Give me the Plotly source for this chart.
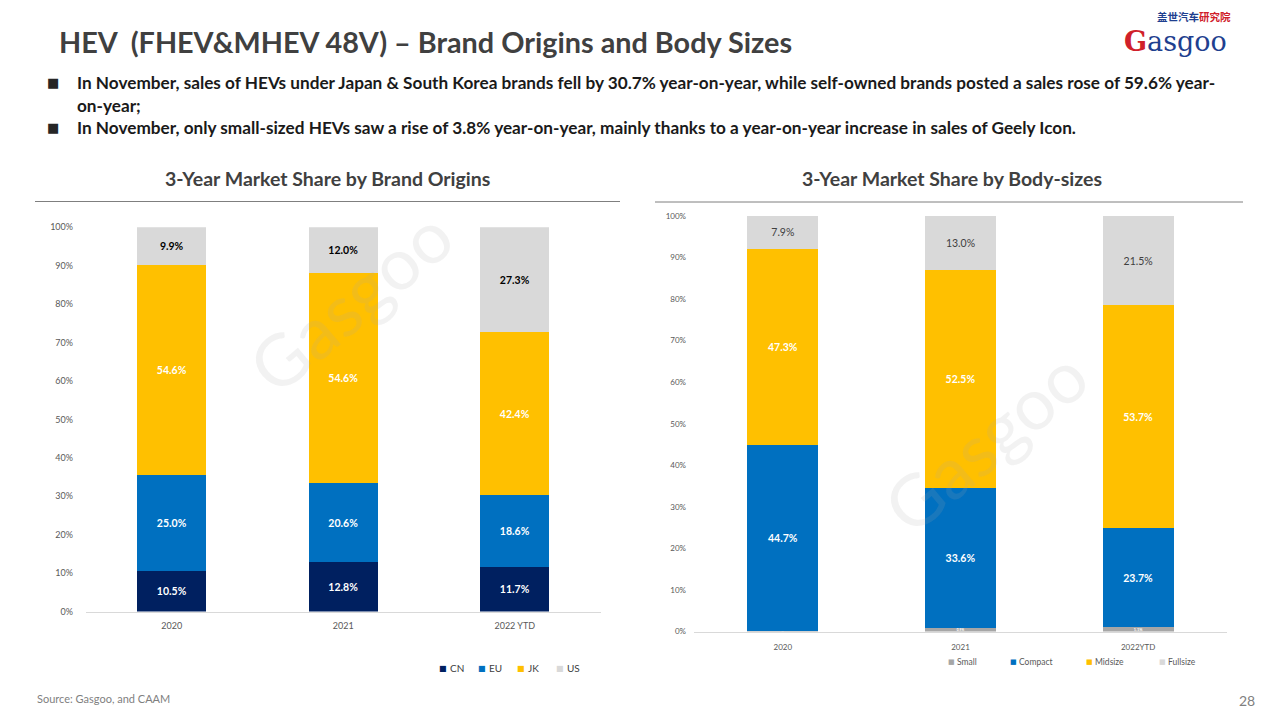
import plotly.graph_objects as go

# ---------------- data ----------------
years_left = ["2020", "2021", "2022 YTD"]
cn = [10.5, 12.8, 11.7]
eu = [25.0, 20.6, 18.6]
jk = [54.6, 54.6, 42.4]
us = [9.9, 12.0, 27.3]

years_right = ["2020", "2021", "2022YTD"]
small = [0.1, 0.9, 1.1]
compact = [44.7, 33.6, 23.7]
midsize = [47.3, 52.5, 53.7]
fullsize = [7.9, 13.0, 21.5]

y_ticks = [0, 10, 20, 30, 40, 50, 60, 70, 80, 90, 100]
y_tick_text = [f"{v}%" for v in y_ticks]

W, H = 1280, 720
def px(x): return x / W
def py(y): return 1 - y / H

FONT = "Lato"
fig = go.Figure()

left_series = [("CN", cn, "#002060", "white", True),
               ("EU", eu, "#0070C0", "white", True),
               ("JK", jk, "#FFC000", "white", True),
               ("US", us, "#D9D9D9", "black", True)]
right_series = [("Small", small, "#A6A6A6", "white", True),
                ("Compact", compact, "#0070C0", "white", True),
                ("Midsize", midsize, "#FFC000", "white", True),
                ("Fullsize", fullsize, "#D9D9D9", "#404040", False)]

def add_bar(x, y, name, color, tcolor, xa, ya, bold=True):
    fig.add_trace(go.Bar(
        x=x, y=y, name=name, marker=dict(color=color, line=dict(width=0)),
        texttemplate="<b>%{y:.1f}%</b>" if bold else "%{y:.1f}%",
        textposition="inside", insidetextanchor="middle",
        textfont=dict(color=tcolor, size=10.5, family=FONT),
        xaxis=xa, yaxis=ya, showlegend=False, hoverinfo="skip"))

for name, vals, col, tcol, b in left_series:
    add_bar(years_left, vals, name, col, tcol, "x", "y", b)
for name, vals, col, tcol, b in right_series:
    add_bar(years_right, vals, name, col, tcol, "x2", "y2", b)

tickfont = dict(size=9, color="#595959", family=FONT)
tickfont2 = dict(size=8, color="#595959", family=FONT)
axis_common = dict(showgrid=False, zeroline=False, fixedrange=True, automargin=False)

fig.update_layout(
    width=W, height=H, autosize=False,
    margin=dict(l=0, r=0, t=0, b=0, pad=0),
    paper_bgcolor="white", plot_bgcolor="white",
    barmode="stack", showlegend=False,
    font=dict(family=FONT),
    xaxis=dict(domain=[px(86), px(600.5)], anchor="y", showline=True, linecolor="#D9D9D9",
               linewidth=1, ticks="", tickfont=tickfont, range=[-0.5, 2.5],
               ticklabelstandoff=6, **axis_common),
    yaxis=dict(domain=[py(611.5), py(227.3)], anchor="x", range=[0, 100], tickvals=y_ticks,
               ticktext=y_tick_text, tickfont=tickfont, showline=False, ticks="",
               ticklabelstandoff=12, **axis_common),
    xaxis2=dict(domain=[px(694), px(1227)], anchor="y2", showline=True, linecolor="#D9D9D9",
                linewidth=1, ticks="", tickfont=tickfont2, range=[-0.5, 2.5],
                ticklabelstandoff=8, **axis_common),
    yaxis2=dict(domain=[py(631.5), py(216)], anchor="x2", range=[0, 100], tickvals=y_ticks,
                ticktext=y_tick_text, tickfont=tickfont2,
                showline=False, ticks="", ticklabelstandoff=7, **axis_common),
    bargap=0.6,
)

# ---------------- text annotations ----------------
ann = []
def A(**kw):
    kw.setdefault("xref", "paper")
    kw.setdefault("yref", "paper")
    kw.setdefault("showarrow", False)
    ann.append(kw)

A(text="<b>HEV  (FHEV&MHEV 48V) – Brand Origins and Body Sizes</b>",
  x=px(57), y=py(41.5), xanchor="left", yanchor="middle",
  font=dict(size=28.8, color="#404040", family=FONT))
bullet_font = dict(size=17.2, color="#1a1a1a", family=FONT)
A(text="<b>In November, sales of HEVs under Japan & South Korea brands fell by 30.7% year-on-year, while self-owned brands posted a sales rose of 59.6% year-</b>",
  x=px(75), y=py(82), xanchor="left", yanchor="middle", font=bullet_font)
A(text="<b>on-year;</b>", x=px(75), y=py(105), xanchor="left", yanchor="middle", font=bullet_font)
A(text="<b>In November, only small-sized HEVs saw a rise of 3.8% year-on-year, mainly thanks to a year-on-year increase in sales of Geely Icon.</b>",
  x=px(75), y=py(127), xanchor="left", yanchor="middle", font=bullet_font)
for yb in (82, 127):
    A(text="■", x=px(53), y=py(yb), xanchor="center", yanchor="middle",
      font=dict(size=13, color="#262626", family="DejaVu Sans"))
A(text="<b>3-Year Market Share by Brand Origins</b>", x=px(327), y=py(178),
  xanchor="center", yanchor="middle", font=dict(size=19.5, color="#404040", family=FONT))
A(text="<b>3-Year Market Share by Body-sizes</b>", x=px(952), y=py(178),
  xanchor="center", yanchor="middle", font=dict(size=19.5, color="#404040", family=FONT))
A(text="Source: Gasgoo, and CAAM", x=px(35), y=py(698), xanchor="left",
  yanchor="middle", font=dict(size=11, color="#7f7f7f", family=FONT))
A(text="28", x=px(1257), y=py(700), xanchor="right", yanchor="middle",
  font=dict(size=14, color="#7f7f7f", family=FONT))
# logo
A(text="<b>盖世汽车<span style='color:#d0202a'>研究院</span></b>", x=px(1194), y=py(16),
  xanchor="center", yanchor="middle", font=dict(size=10.5, color="#1f3f8f", family="Noto Sans CJK SC"))
A(text="<span style='color:#d0202a'><b>G</b></span>asgoo", x=px(1175), y=py(41),
  xanchor="center", yanchor="middle", font=dict(size=27, color="#1f3f8f", family="DejaVu Serif"))
# watermarks
for (wx, wy) in [(350, 300), (985, 440)]:
    A(text="Gasgoo", x=px(wx), y=py(wy), xanchor="center", yanchor="middle", textangle=-40,
      font=dict(size=72, color="rgba(170,170,170,0.15)", family=FONT))

# legends (built from the series names and colours)
left_leg_x = [443, 482, 521, 560]
for (name, _, col, _, _), lx in zip(left_series, left_leg_x):
    A(text="■", x=px(lx), y=py(668), xanchor="center", yanchor="middle",
      font=dict(size=8, color=col, family="DejaVu Sans"))
    A(text=name, x=px(lx + 5), y=py(668), xanchor="left", yanchor="middle",
      font=dict(size=10, color="#404040", family=FONT))
right_leg_x = [951, 1013, 1089, 1162]
for (name, _, col, _, _), lx in zip(right_series, right_leg_x):
    A(text="■", x=px(lx), y=py(662), xanchor="center", yanchor="middle",
      font=dict(size=7, color=col, family="DejaVu Sans"))
    A(text=name, x=px(lx + 4), y=py(662), xanchor="left", yanchor="middle",
      font=dict(size=8.5, color="#595959", family=FONT))
fig.update_layout(annotations=ann)

shapes = [
    dict(type="line", xref="paper", yref="paper", x0=px(35), x1=px(620), y0=py(201.5), y1=py(201.5),
         line=dict(color="#7f7f7f", width=1)),
    dict(type="line", xref="paper", yref="paper", x0=px(655), x1=px(1243), y0=py(202), y1=py(202),
         line=dict(color="#7f7f7f", width=1)),
]
fig.update_layout(shapes=shapes)

fig.write_html("out.html", config={"displayModeBar": False},
               post_script="document.body.style.margin='0';document.body.style.overflow='hidden';")
